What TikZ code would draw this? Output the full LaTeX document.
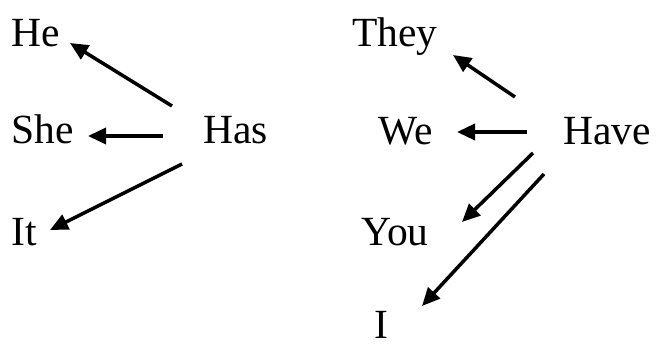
\documentclass[tikz,border=0pt]{standalone}
\usepackage{fontspec}
\setmainfont{Liberation Serif}
\usetikzlibrary{arrows.meta}
\begin{document}
\begin{tikzpicture}[x=1pt,y=-1pt,
  word/.style={anchor=base west,inner sep=0pt,font=\fontsize{41.5}{41.5}\selectfont},
  arr/.style={line width=3.5pt,-{Triangle[length=18pt,width=16pt]}}]
\useasboundingbox (0,0) rectangle (657,347);
\node[word] (he) at (11,47) {He};
\node[word] (she) at (11,144) {She};
\node[word] (it) at (11,246) {It};
\node[word] (has) at (203,144) {Has};
\node[word] (they) at (352,47) {They};
\node[word] (we) at (378,145) {We};
\node[word] (you) at (361,246) {You};
\node[word] (i) at (374,339) {I};
\node[word] (have) at (563,145) {Have};
\draw[arr] ([shift={(-31,-38)}]has.base west) -- ([shift={(59,-4)}]he.base west);
\draw[arr] ([shift={(-40,-8)}]has.base west) -- ([shift={(77,-8)}]she.base west);
\draw[arr] ([shift={(-21,20)}]has.base west) -- ([shift={(39,-16)}]it.base west);
\draw[arr] ([shift={(-48,-48)}]have.base west) -- ([shift={(101,8)}]they.base west);
\draw[arr] ([shift={(-36,-13)}]have.base west) -- ([shift={(79,-13)}]we.base west);
\draw[arr] ([shift={(-30,8)}]have.base west) -- ([shift={(101,-24)}]you.base west);
\draw[arr] ([shift={(-19,29)}]have.base west) -- ([shift={(48,-33)}]i.base west);
\end{tikzpicture}
\end{document}
